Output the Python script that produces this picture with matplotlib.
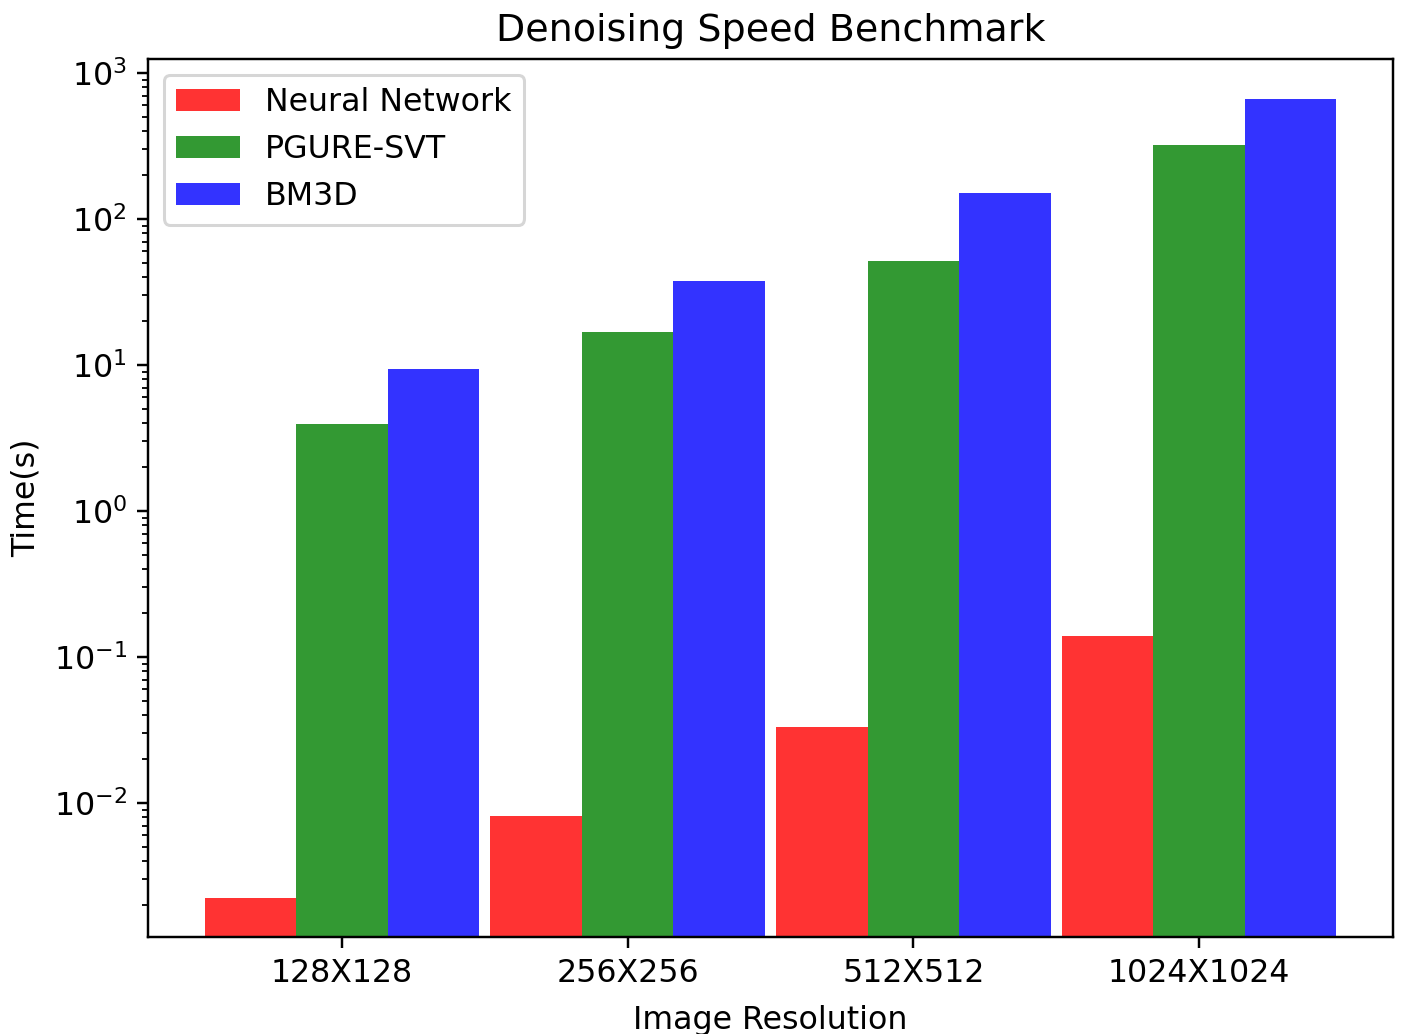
import numpy as np
import matplotlib
matplotlib.use('Agg')
import matplotlib.pyplot as plt

resolutions = ['128X128', '256X256', '512X512', '1024X1024']
neural_net = [0.00224, 0.0081, 0.033, 0.14]
pgure_svt = [3.95, 16.9, 51.5, 321]
bm3d = [9.4, 37.5, 151, 661]

plt.rcParams['font.size'] = 10.4

dpi = 219.2
fig = plt.figure(figsize=(1403 / dpi, 1034 / dpi), dpi=dpi)
ax = fig.add_axes([148 / 1403, 1 - 937 / 1034, (1393 - 148) / 1403, (937 - 59) / 1034])

x = np.arange(len(resolutions))
width = 0.32
ax.bar(x - width, neural_net, width, color='r', alpha=0.8, label='Neural Network')
ax.bar(x, pgure_svt, width, color='g', alpha=0.8, label='PGURE-SVT')
ax.bar(x + width, bm3d, width, color='b', alpha=0.8, label='BM3D')

ax.set_yscale('log')
ax.set_ylim(10 ** -2.918, 10 ** 3.096)
ax.set_xticks(x)
ax.set_xticklabels(resolutions)
ax.set_xlabel('Image Resolution', labelpad=5)
ax.set_ylabel('Time(s)')
ax.set_title('Denoising Speed Benchmark')
ax.legend(loc='upper left')

fig.savefig('out.png', dpi=dpi)
